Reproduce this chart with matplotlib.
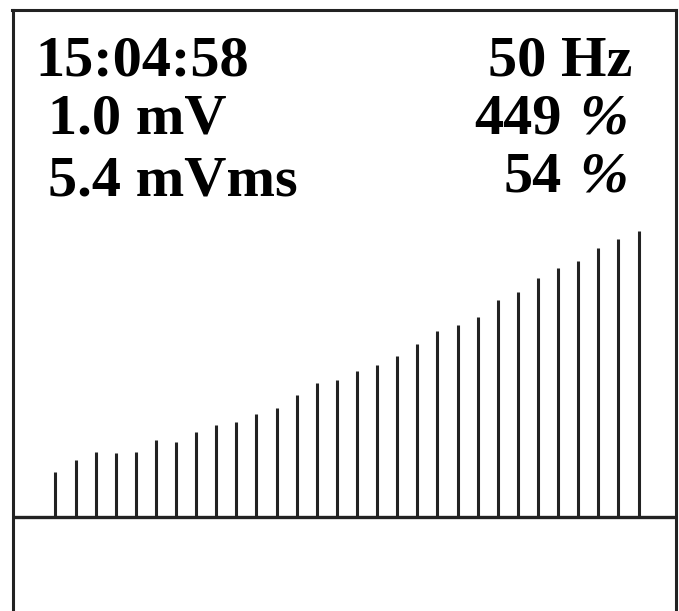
import matplotlib
matplotlib.use("Agg")
import matplotlib.pyplot as plt
import numpy as np

# spectrum bars (harmonics 1..30), heights
harmonics = np.arange(1, 31)
levels = [45, 57, 65, 64, 65, 77, 75, 85, 92, 95,
          103, 109, 122, 134, 137, 146, 152, 161, 173, 186,
          192, 200, 217, 225, 239, 249, 256, 269, 278, 286]

# readout texts
left_lines = ["15:04:58", "1.0 mV", "5.4 mVms"]
freq_text = "50 Hz"
pct_values = ["449", "54"]
pct_sign = "%"

W, H = 679, 611
fig = plt.figure(figsize=(W / 100, H / 100), dpi=100)

# frame: open at the bottom (runs off the picture)
ax = fig.add_axes([12.5 / W, -9 / H, (676 - 12.5) / W, (620 - 9.5) / H])
ax.set_xlim(-1.133, 31.86)
ax.set_ylim(-103, 507.5)
for side in ["left", "right", "top"]:
    ax.spines[side].set_linewidth(2.2)
    ax.spines[side].set_color("#222222")
ax.spines["bottom"].set_visible(False)
ax.set_xticks([])
ax.set_yticks([])

ax.vlines(harmonics, 0, levels, color="#222222", linewidth=2.2)
ax.axhline(0, color="#222222", linewidth=2.4)

font = dict(family="Liberation Serif", weight="bold", size=42, color="black")
pfont = dict(family="Liberation Serif", style="italic", weight="bold", size=42, color="black")

# left column
fig.text(35 / W, 1 - 75 / H, left_lines[0], ha="left", va="baseline", **font)
fig.text(48 / W, 1 - 133 / H, left_lines[1], ha="left", va="baseline", **font)
fig.text(48 / W, 1 - 195 / H, left_lines[2], ha="left", va="baseline", **font)

# right column
fig.text(632 / W, 1 - 75 / H, freq_text, ha="right", va="baseline", **font)
for val, base in zip(pct_values, [133, 192]):
    fig.text(562 / W, 1 - base / H, val, ha="right", va="baseline", **font)
    fig.text(628 / W, 1 - base / H, pct_sign, ha="right", va="baseline", **pfont)

fig.savefig("out.png", dpi=100)
